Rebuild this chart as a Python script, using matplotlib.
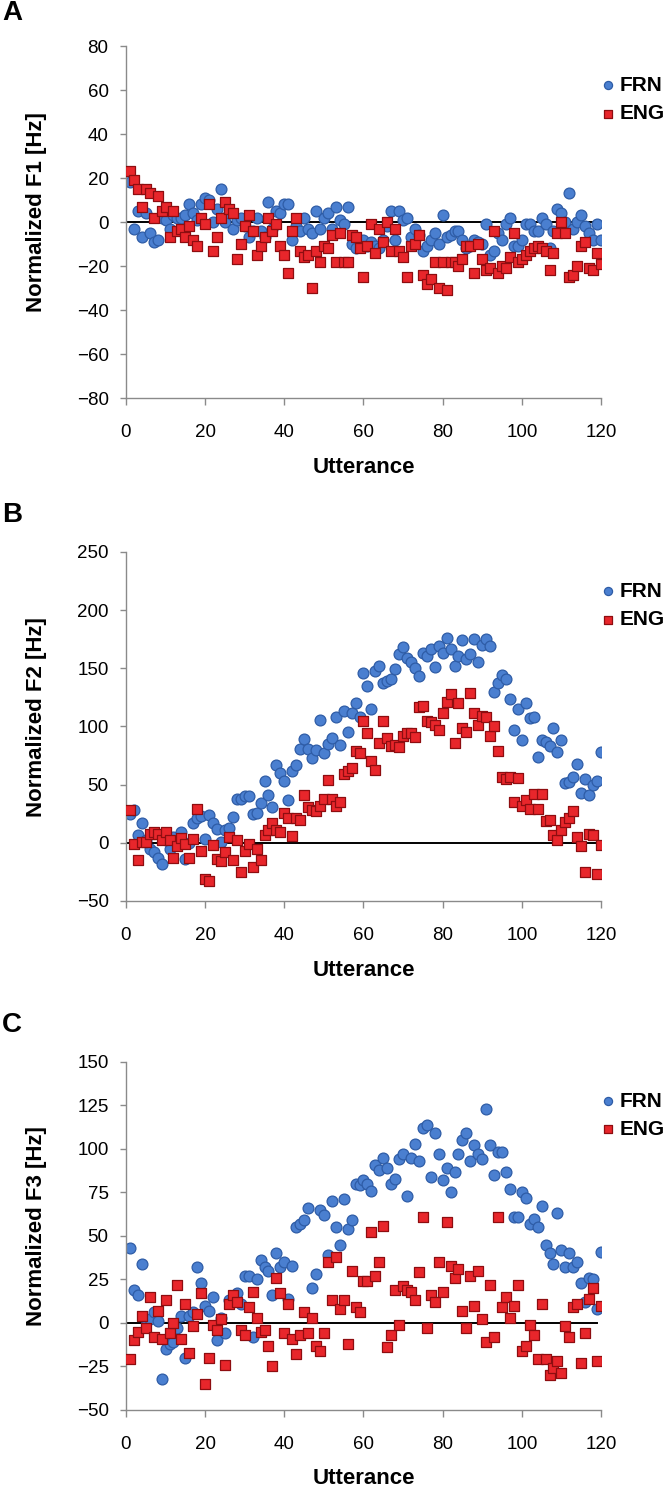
import numpy as np
import matplotlib.pyplot as plt

plt.rcParams['font.family'] = ['Liberation Sans', 'DejaVu Sans']

utterance = np.arange(1, 121)

# Panel A: normalized F1 [Hz]
f1_frn = [18, -3, 5, -7, 4, -5, -9, -8, 2, 1, -3, 3, 2, 2, 3, 8, 4, 1, 8, 11,
          10, 0, 6, 15, 0, 4, -3, 1, 2, -2, -7, -4, 2, -4, -7, 9, -3, 5, 4, 8,
          8, -8, -2, -4, 2, -3, -5, 5, -3, 2, 4, -3, 7, 1, -1, 7, -10, -12, -9, -8,
          -11, -9, -11, -12, -8, -2, 5, -8, 5, 1, 2, -7, -3, -6, -13, -11, -8, -5, -10, 3,
          -7, -6, -4, -4, -8, -12, -11, -8, -9, -10, -1, -15, -13, -5, -8, -1, 2, -11, -11, -8,
          -1, -1, -4, -4, 2, -1, -12, -4, 6, 4, 0, 13, -3, 0, 3, -2, -5, -8, -1, -8]
f1_eng = [23, 19, 15, 7, 15, 13, 2, 12, 5, 7, -7, 5, -4, -3, -7, -2, -8, -11, 2, -1,
          8, -13, -7, 2, 9, 6, 4, -17, -10, -2, 3, -4, -15, -11, -7, 2, -4, -1, -11, -15,
          -23, -4, 2, -13, -16, -15, -30, -13, -18, -11, -12, -6, -18, -5, -18, -18, -6, -7, -12, -25,
          -11, -1, -14, -3, -9, 0, -13, -3, -13, -16, -25, -11, -10, -6, -24, -28, -26, -18, -30, -18,
          -31, -18, -18, -20, -17, -11, -11, -23, -10, -17, -22, -21, -4, -23, -20, -21, -16, -5, -18, -17,
          -15, -13, -12, -11, -12, -13, -22, -14, -5, 0, -5, -25, -24, -20, -11, -9, -21, -22, -14, -19]

# Panel B: normalized F2 [Hz]
f2_frn = [25, 28, 7, 17, 2, -5, -8, -13, -18, 2, -5, 5, 1, 9, -14, 0, 17, 21, 23, 3,
          24, 17, 12, 1, 11, 13, 22, 38, 38, 40, 40, 25, 26, 34, 53, 41, 31, 67, 60, 53,
          37, 62, 67, 81, 89, 81, 73, 80, 106, 77, 85, 90, 108, 84, 113, 95, 112, 120, 108, 146,
          135, 115, 148, 152, 137, 139, 141, 149, 162, 168, 159, 155, 150, 143, 163, 161, 167, 151, 169, 163,
          176, 167, 152, 161, 174, 158, 162, 175, 155, 170, 175, 169, 130, 137, 144, 141, 124, 97, 115, 88,
          120, 107, 108, 74, 88, 87, 83, 99, 78, 88, 51, 52, 57, 68, 43, 55, 41, 50, 53, 78]
f2_eng = [28, -1, -15, 1, 1, 8, 9, 8, 2, 9, 2, -13, -3, 4, -1, -13, 3, 29, -7, -31,
          -33, -2, -14, -16, -8, 5, -15, 2, -25, -7, -1, -21, -5, -15, 7, 11, 17, 11, 9, 26,
          21, 6, 21, 20, 41, 31, 28, 27, 32, 38, 54, 38, 32, 35, 59, 62, 64, 79, 77, 105,
          94, 70, 63, 86, 105, 90, 83, 84, 82, 92, 94, 94, 91, 117, 118, 105, 104, 101, 97, 112,
          121, 128, 86, 120, 99, 95, 129, 112, 101, 109, 108, 92, 100, 79, 57, 55, 57, 35, 56, 32,
          37, 29, 42, 29, 42, 19, 20, 7, 2, 11, 18, 21, 27, 5, -3, -25, 8, 7, -27, -2]

# Panel C: normalized F3 [Hz]
f3_frn = [43, 19, 16, 34, 2, 2, 6, 1, -32, -15, -12, -11, -3, 4, -20, 4, 6, 32, 23, 10,
          7, 15, -10, 3, -6, 13, 14, 17, 11, 27, 27, -8, 25, 36, 32, 30, 16, 40, 32, 35,
          14, 33, 55, 57, 59, 66, 20, 28, 65, 62, 39, 70, 55, 45, 71, 54, 59, 80, 79, 82,
          80, 76, 91, 88, 95, 89, 80, 83, 94, 97, 73, 95, 103, 93, 112, 114, 84, 109, 97, 82,
          89, 75, 87, 97, 105, 109, 93, 102, 97, 94, 123, 102, 85, 98, 98, 87, 77, 61, 61, 75,
          72, 57, 60, 55, 67, 45, 40, 34, 63, 42, 32, 40, 32, 35, 23, 12, 26, 25, 8, 41]
f3_eng = [-21, -10, -5, 4, -3, 15, -8, 7, -9, 13, -6, 0, 22, -9, 11, -17, -2, 5, 17, -35,
          -20, -1, -4, 2, -24, 11, 16, 12, -4, -7, 9, 18, 3, -5, -4, -13, -25, 26, 17, -6,
          11, -9, -18, -7, 6, -6, 3, -13, -16, -6, 35, 13, 38, 8, 13, -12, 30, 9, 6, 24,
          24, 52, 27, 35, 56, -14, -7, 19, -1, 21, 19, 18, 13, 29, 61, -3, 16, 12, 35, 18,
          58, 33, 26, 31, 7, -3, 27, 10, 30, 2, -11, 22, -8, 61, 9, 15, 3, 10, 22, -16,
          -13, -1, -7, -21, 11, -21, -30, -26, -22, -29, -2, -8, 9, 11, -23, -6, 14, 20, -22, 10]

panels = [
    ('A', f1_frn, f1_eng, 'Normalized F1 [Hz]', (-80, 80), np.arange(-80, 81, 20)),
    ('B', f2_frn, f2_eng, 'Normalized F2 [Hz]', (-50, 250), np.arange(-50, 251, 50)),
    ('C', f3_frn, f3_eng, 'Normalized F3 [Hz]', (-50, 150), np.arange(-50, 151, 25)),
]

# axes boxes in figure fractions (left, bottom, width, height)
boxes = [
    (0.1886, 0.7327, 0.7111, 0.2364),
    (0.1886, 0.3949, 0.7111, 0.2344),
    (0.1886, 0.0531, 0.7111, 0.2337),
]
letter_y = [0.9913, 0.6541, 0.3116]

blue_fill = '#4a7fd0'
blue_edge = '#2e5ca6'
red_fill = '#e8262b'
red_edge = '#8e0d10'
axis_gray = '#8a8a8a'

fig = plt.figure(figsize=(6.68, 14.89), dpi=100)

for (letter, frn, eng, ylabel, ylim, yticks), box, ly in zip(panels, boxes, letter_y):
    ax = fig.add_axes(box)
    ax.plot([0, 119], [0, 0], color='black', lw=1.4, zorder=1)
    ax.scatter(utterance, frn, s=7.8 ** 2, marker='o', color=blue_fill,
               edgecolors=blue_edge, linewidths=0.9, label='FRN', zorder=2)
    ax.scatter(utterance, eng, s=6.9 ** 2, marker='s', color=red_fill,
               edgecolors=red_edge, linewidths=0.9, label='ENG', zorder=3)

    ax.set_xlim(0, 120)
    ax.set_ylim(*ylim)
    ax.set_xticks(np.arange(0, 121, 20))
    ax.set_yticks(yticks)

    for side in ['top', 'right']:
        ax.spines[side].set_visible(False)
    for side in ['left', 'bottom']:
        ax.spines[side].set_color(axis_gray)
        ax.spines[side].set_linewidth(1.0)
    ax.tick_params(axis='both', direction='out', color=axis_gray, width=1.0,
                   labelsize=13.5)
    ax.tick_params(axis='x', length=5, pad=14)
    ax.tick_params(axis='y', length=4.5, pad=8)

    ax.set_xlabel('Utterance', fontsize=16, fontweight='bold', va='center')
    ax.xaxis.set_label_coords(0.5, -0.198)
    ax.set_ylabel(ylabel, fontsize=16, fontweight='bold', va='center')
    ax.yaxis.set_label_coords(-0.189, 0.527)

    ax.legend(loc='upper left', bbox_to_anchor=(0.998, 0.915), frameon=False,
              borderpad=0, borderaxespad=0, handlelength=0.8, handletextpad=0.15,
              labelspacing=0.45, markerscale=0.75,
              prop={'size': 15, 'weight': 'bold'})

    fig.text(0.003, ly, letter, fontsize=20, fontweight='bold', ha='left', va='center')

fig.savefig('out.png', dpi=100)
